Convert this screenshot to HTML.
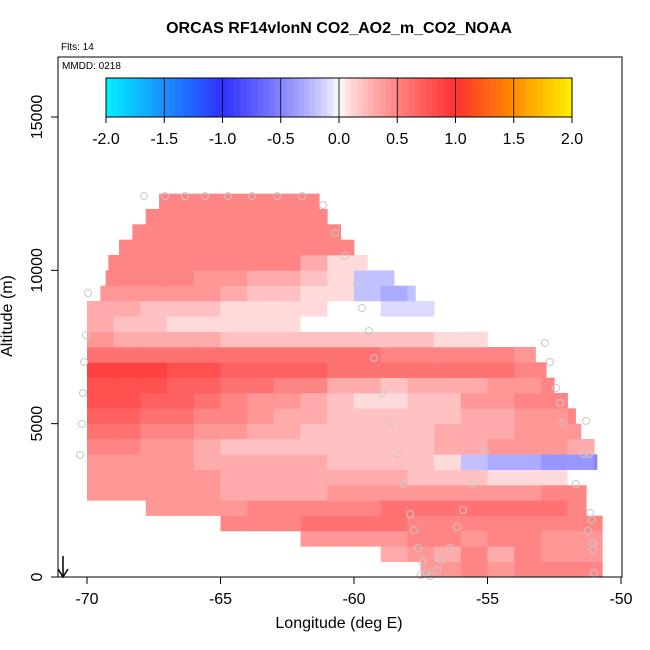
<!DOCTYPE html>
<html><head><meta charset="utf-8"><style>
body{margin:0;background:#fff}
svg{display:block;font-family:"Liberation Sans",sans-serif}
</style></head><body>
<svg id="c" width="650" height="650" viewBox="0 0 650 650"></svg>
<script>
// ---- data ----
const xTicks=[-70,-65,-60,-55,-50];
const yTicks=[0,5000,10000,15000];
const cbTicks=[-2.0,-1.5,-1.0,-0.5,0.0,0.5,1.0,1.5,2.0];
const rowBottoms=[0,500,1000,1500,2000,2500,3000,3500,4000,4500,5000,5500,6000,6500,7000,7500,8000,8500,9000,9500,10000,10500,11000,11500,12000];
const rowStart=[-57.5,-59,-62.2,-65.5,-67.8,-70.5,-70.3,-70.3,-70.3,-70.3,-70.3,-70.3,-70.3,-70.3,-70,-70,-70,-70,-69.5,-69.3,-69.2,-68.8,-68.3,-67.8,-67.3];
const rowEnd=[-50.7,-50.7,-50.7,-50.7,-51.3,-51.3,-51,-50.9,-51,-51.5,-51.7,-52,-52.5,-52.8,-53.2,-55,-56,-57,-57.7,-58.5,-59.5,-60,-60.5,-61,-61.3];
// one char per 1-degree column starting at -71; digits = tenths, a..e = -0.1..-0.5
const rowValues=[
".............44545555",
"............343535444",
".........444455455444",
"......555666655555555",
"...44445555566666665.",
".4444433334444444455.",
".4444433333332221110.",
".44443333322221bccdde",
".5544322222222334443.",
".6655443322222333444.",
".7766554332222233445.",
".8877654432112244556.",
".8887766553323334455.",
".9998877776666666555.",
".66666666666555554...",
".433332222222211.....",
".32211111000000......",
".33222111100aa.......",
".4444432211bcb.......",
".5555443321bb........",
".55555555311.........",
".555555555544........",
".555555555555........",
".55555555555.........",
".55555555555........."];
const trackLon=[-67.87,-67.08,-66.33,-65.58,-64.72,-63.82,-62.88,-61.95,-61.16,-60.71,-60.34,-59.89,-59.70,-59.44,-59.25,-58.95,-58.65,-58.39,-58.13,-57.90,-57.75,-57.60,-57.45,-57.30,-57.15,-69.96,-70.04,-70.11,-70.15,-70.19,-70.26,-52.85,-52.66,-52.43,-52.28,-52.17,-51.31,-51.39,-51.2,-51.69,-51.16,-51.09,-51.24,-51.05,-51.05,-51.01,-55.09,-55.54,-55.92,-56.14,-56.4,-56.74,-56.89,-57.5];
const trackAlt=[12423,12423,12423,12423,12423,12423,12423,12423,12130,11216,10466,9586,8771,8021,7140,6000,5021,4010,3032,2054,1532,946,489,130,30,9260,7890,7010,6000,4990,3980,7630,7010,6160,5670,5020,5090,4010,4010,3030,2090,1860,1500,1110,880,130,4076,3032,2185,1630,946,554,228,65];

// ---- scales ----
const X=l=>87+(l+70)*26.7;
const Y=a=>577-a*0.030667;
const CB=v=>106+(v+2)*116.5;
function col(v){
  let r,g,b;
  const lerp=(a,b,t)=>Math.round(a+(b-a)*t);
  if(v>=0){
    if(v<=1){const t=Math.pow(v,0.75);r=255;g=lerp(255,48,t);b=lerp(255,48,t);}
    else if(v<=1.5){const t=(v-1)/0.5;r=255;g=lerp(48,140,t);b=lerp(48,0,t);}
    else{const t=Math.min(1,(v-1.5)/0.5);r=255;g=lerp(140,240,t);b=0;}
  }else{
    const a=-v;
    if(a<=1){const t=Math.pow(a,0.75);r=lerp(255,48,t);g=lerp(255,48,t);b=255;}
    else{const t=Math.min(1,a-1);r=lerp(48,0,t);g=lerp(48,240,t);b=255;}
  }
  return `rgb(${r},${g},${b})`;
}
function decode(ch){
  if(ch==='.')return null;
  if(ch>='0'&&ch<='9')return (+ch)/10;
  return -(ch.charCodeAt(0)-96)/10;
}
const svg=document.getElementById('c');
const NS='http://www.w3.org/2000/svg';
function mk(tag,attrs,parent){const e=document.createElementNS(NS,tag);for(const k in attrs)e.setAttribute(k,attrs[k]);(parent||svg).appendChild(e);return e;}

// ---- heatmap ----
const hm=mk('g',{});


rowValues.forEach((s,ri)=>{
  const a0=rowBottoms[ri],a1=a0+500;
  for(let i=0;i<s.length;i++){
    const v=decode(s[i]);if(v===null)continue;
    const l0=Math.max(-71+i,rowStart[ri]),l1=Math.min(-70+i,rowEnd[ri]);
    if(l1<=l0)continue;
    const r=mk('rect',{x:X(l0),y:Y(a1),width:X(l1)-X(l0)+0.3,height:Y(a0)-Y(a1)+0.3,fill:col(v)},hm);
    
    
  }
});
// ---- track points ----
const tg=mk('g',{});


trackLon.forEach((l,i)=>{
  const c=mk('circle',{cx:X(l),cy:Y(trackAlt[i]),r:3.5,fill:'none',stroke:'#c8c8c8','stroke-width':1},tg);
  
  
});
// ---- frame ----
const fr=mk('rect',{x:58,y:57,width:564,height:520,fill:'none',stroke:'#000','stroke-width':1});


xTicks.forEach(t=>{
  mk('line',{x1:X(t),x2:X(t),y1:577,y2:584,stroke:'#000'});
  const tx=mk('text',{x:X(t),y:604,'font-size':16,'text-anchor':'middle'});tx.textContent=t;
  
  
});
yTicks.forEach(t=>{
  mk('line',{x1:51,x2:58,y1:Y(t),y2:Y(t),stroke:'#000'});
  const tx=mk('text',{x:42,y:Y(t),'font-size':16,'text-anchor':'middle',transform:`rotate(-90 42 ${Y(t)})`});tx.textContent=t;
  
  
});
// ---- colorbar ----
const cb=mk('g',{});


for(let k=0;k<80;k++){
  const v0=-2+k*0.05;
  mk('rect',{x:CB(v0),y:78,width:116.5*0.05+0.5,height:39,fill:col(v0+0.025)},cb);
}
cbTicks.forEach(t=>{
  if(t>-2&&t<2)mk('line',{x1:CB(t),x2:CB(t),y1:78,y2:117,stroke:'#000','stroke-width':0.8},cb);
  mk('line',{x1:CB(t),x2:CB(t),y1:117,y2:123,stroke:'#000'},cb);
  const tx=mk('text',{x:CB(t),y:144,'font-size':16,'text-anchor':'middle'},cb);tx.textContent=t.toFixed(1);
  
  
});
mk('rect',{x:106,y:78,width:466,height:39,fill:'none',stroke:'#000'},cb);
// arrow
const ar=mk('g',{});


mk('line',{x1:63,x2:63,y1:556,y2:577,stroke:'#000','stroke-width':1.5},ar);
mk('path',{d:'M58,569 L63,577 L68,569',fill:'none',stroke:'#000','stroke-width':1.5},ar);
</script>
<div style="position:absolute;left:0;top:0;width:650px;height:650px;pointer-events:none;font-family:'Liberation Sans',sans-serif">
<div style="position:absolute;left:0;width:678px;top:20px;text-align:center;font-weight:bold;font-size:16px">ORCAS RF14vlonN CO2_AO2_m_CO2_NOAA</div>
<div style="position:absolute;left:61px;top:42px;font-size:10px">Flts: 14</div>
<div style="position:absolute;left:62px;top:61px;font-size:10px">MMDD: 0218</div>
<div style="position:absolute;left:0;width:678px;top:615px;text-align:center;font-size:16px">Longitude (deg E)</div>
<div style="position:absolute;left:-52px;top:307px;width:120px;text-align:center;font-size:16px;transform:rotate(-90deg)">Altitude (m)</div>
</div>
</body></html>
